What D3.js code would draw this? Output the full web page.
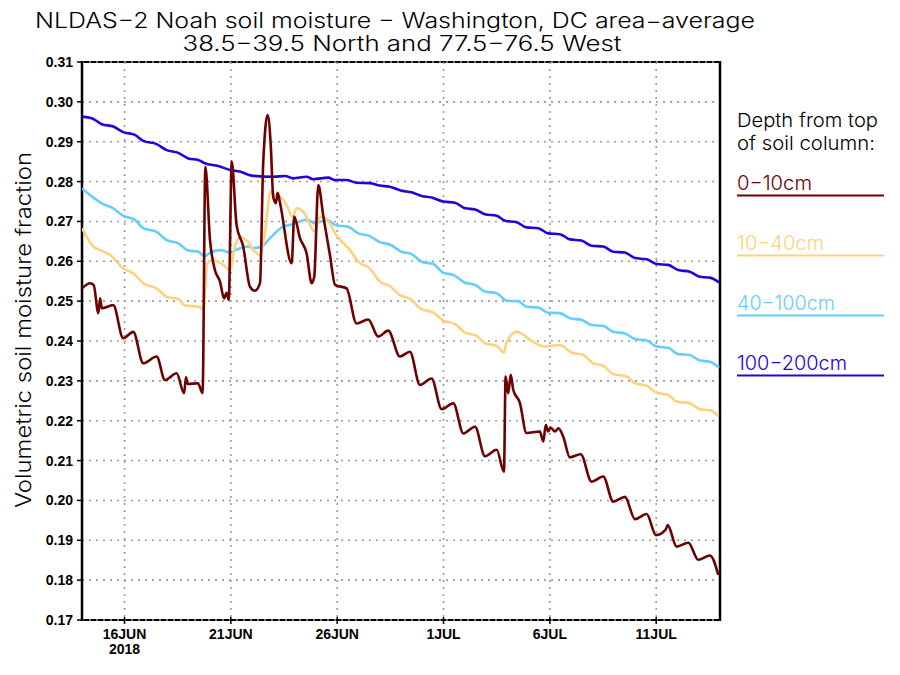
<!DOCTYPE html>
<html>
<head>
<meta charset="utf-8">
<script src="https://cdn.jsdelivr.net/npm/d3@7"></script>
<style>
  body { margin: 0; background: #fff; }
  text { font-family: "Liberation Sans", Arial, sans-serif; }
  .thin { font-family: "Inter", "Lato", "Liberation Sans", sans-serif; font-weight: 300; }
</style>
</head>
<body>
<svg id="chart" width="900" height="675"></svg>
<script>
// time in days since 14 Jun 2018 00Z, value = volumetric soil moisture fraction
const depth0_10 = [[0,0.2532],[0.38,0.2545],[0.55,0.2540],[0.77,0.2470],[0.85,0.2507],[0.93,0.2482],[1.47,0.2490],[1.94,0.2407],[2.41,0.2423],[2.88,0.2344],[3.51,0.2361],[3.9,0.2302],[4.45,0.2319],[4.8,0.2269],[4.89,0.2309],[4.97,0.2292],[5.45,0.2294],[5.67,0.2269],[5.8,0.2837],[6.02,0.2653],[6.25,0.2578],[6.49,0.2549],[6.68,0.2507],[6.8,0.2521],[6.9,0.2503],[7.04,0.2850],[7.27,0.2690],[7.58,0.2637],[7.90,0.2536],[8.13,0.2526],[8.37,0.2545],[8.52,0.2846],[8.73,0.2967],[8.88,0.2887],[8.99,0.2762],[9.12,0.2746],[9.2,0.2772],[9.3,0.2750],[9.86,0.2595],[9.98,0.2712],[10.25,0.2658],[10.56,0.2620],[10.8,0.2545],[10.92,0.2561],[11.11,0.2791],[11.35,0.2712],[11.66,0.2615],[11.9,0.2541],[12.44,0.2532],[12.91,0.2444],[13.46,0.2454],[13.93,0.2411],[14.40,0.2426],[14.95,0.2361],[15.42,0.2373],[15.89,0.2290],[16.44,0.2306],[16.91,0.2229],[17.46,0.2244],[17.93,0.2168],[18.48,0.2185],[18.95,0.2111],[19.50,0.2127],[19.84,0.2072],[19.92,0.2311],[20.04,0.2269],[20.16,0.2315],[20.28,0.2277],[20.59,0.2245],[20.9,0.2169],[21.53,0.2173],[21.69,0.2148],[21.81,0.2189],[21.92,0.2173],[22.03,0.2183],[22.24,0.2173],[22.4,0.2181],[22.63,0.2160],[22.94,0.2108],[23.45,0.2116],[23.96,0.2047],[24.51,0.2060],[24.98,0.1997],[25.53,0.2009],[26.0,0.1953],[26.55,0.1966],[26.99,0.1913],[27.46,0.1928],[27.54,0.1938],[27.96,0.1884],[28.51,0.1894],[28.98,0.1851],[29.53,0.1862],[29.92,0.1813]];

const depth10_40 = [[0,0.2683],[0.53,0.2637],[0.93,0.2626],[1.32,0.2616],[1.94,0.2582],[2.41,0.2570],[2.88,0.2545],[3.51,0.2532],[3.98,0.2511],[4.53,0.2505],[4.84,0.2489],[5.47,0.2486],[5.7,0.2480],[5.89,0.2595],[6.17,0.2603],[6.64,0.2591],[6.96,0.2578],[7.19,0.2637],[7.43,0.2660],[7.74,0.2653],[8.06,0.2628],[8.37,0.2616],[8.6,0.2670],[8.87,0.2775],[9.15,0.2762],[9.3,0.2762],[9.62,0.2741],[9.9,0.2712],[10.1,0.2733],[10.41,0.2724],[10.95,0.2674],[11.19,0.2712],[11.5,0.2706],[11.97,0.2665],[12.6,0.2628],[12.99,0.2599],[13.54,0.2582],[14.0,0.2549],[14.47,0.2538],[14.95,0.2515],[15.5,0.2503],[15.89,0.2482],[16.52,0.2471],[16.99,0.2451],[17.54,0.2443],[18.01,0.2421],[18.56,0.2413],[18.95,0.2394],[19.5,0.2388],[19.85,0.2371],[19.95,0.2394],[20.44,0.2423],[20.67,0.2419],[21.06,0.2403],[21.77,0.2386],[22.47,0.2390],[23.02,0.2371],[23.57,0.2365],[24.04,0.2344],[24.51,0.2338],[24.98,0.2317],[25.61,0.2311],[26.0,0.2294],[26.55,0.2288],[27.02,0.2270],[27.56,0.2265],[27.96,0.2248],[28.58,0.2244],[29.05,0.2229],[29.6,0.2225],[29.92,0.2212]];

const depth40_100 = [[0,0.2783],[0.38,0.2766],[0.93,0.2745],[1.47,0.2733],[1.94,0.2714],[2.49,0.2704],[2.88,0.2683],[3.51,0.2674],[3.98,0.2653],[4.53,0.2645],[5.0,0.2627],[5.47,0.2624],[5.74,0.2613],[6.1,0.2624],[6.49,0.2628],[6.96,0.2622],[7.43,0.2633],[7.8,0.2637],[8.03,0.2633],[8.45,0.2637],[8.84,0.2658],[9.46,0.2687],[9.93,0.2693],[10.56,0.2705],[10.95,0.2695],[11.5,0.2704],[11.97,0.2690],[12.5,0.2687],[12.99,0.2670],[13.54,0.2663],[14.0,0.2648],[14.47,0.2642],[15.03,0.2624],[15.5,0.2618],[15.97,0.2599],[16.52,0.2593],[16.99,0.2571],[17.46,0.2566],[18.01,0.2546],[18.48,0.2541],[18.95,0.2524],[19.5,0.2520],[19.97,0.2501],[20.51,0.2500],[20.9,0.2486],[21.45,0.2484],[21.92,0.2471],[22.47,0.2470],[22.94,0.2457],[23.49,0.2453],[23.96,0.2440],[24.51,0.2438],[24.98,0.2423],[25.53,0.2419],[26.0,0.2405],[26.55,0.2401],[27.02,0.2386],[27.56,0.2383],[28.03,0.2367],[28.58,0.2365],[29.05,0.2351],[29.52,0.2348],[29.96,0.2333]];

const depth100_200 = [[0,0.2963],[0.46,0.2959],[0.93,0.2944],[1.47,0.2938],[1.94,0.2924],[2.49,0.2917],[2.88,0.2902],[3.51,0.2894],[3.98,0.2879],[4.53,0.2872],[5.0,0.2858],[5.47,0.2854],[5.78,0.2846],[6.41,0.2839],[6.96,0.2829],[7.43,0.2825],[7.98,0.2815],[9.0,0.2812],[9.55,0.2814],[9.93,0.2808],[10.56,0.2812],[10.87,0.2806],[11.58,0.2810],[11.89,0.2804],[12.44,0.2804],[12.91,0.2797],[13.54,0.2796],[14.0,0.2790],[14.47,0.2787],[15.03,0.2777],[15.5,0.2773],[15.97,0.2764],[16.44,0.2760],[16.99,0.2750],[17.54,0.2747],[18.01,0.2733],[18.48,0.2730],[18.95,0.2718],[19.5,0.2714],[19.89,0.2702],[20.44,0.2698],[20.9,0.2685],[21.45,0.2683],[21.92,0.2670],[22.47,0.2668],[22.94,0.2655],[23.49,0.2652],[23.96,0.2639],[24.51,0.2637],[24.98,0.2624],[25.53,0.2622],[26.0,0.2608],[26.55,0.2605],[27.02,0.2593],[27.56,0.2591],[28.03,0.2578],[28.58,0.2574],[29.05,0.2561],[29.52,0.2559],[29.96,0.2547]];

const seriesNames = ["0\u221210cm", "10\u221240cm", "40\u2212100cm", "100\u2212200cm"];
const seriesColors = ["#6e0000", "#fdd27e", "#66cdff", "#2800dc"];
const yTickValues = [0.17,0.18,0.19,0.20,0.21,0.22,0.23,0.24,0.25,0.26,0.27,0.28,0.29,0.30,0.31];
const xTickDates = ["2018-06-16","2018-06-21","2018-06-26","2018-07-01","2018-07-06","2018-07-11"];
const xTickLabels = ["16JUN","21JUN","26JUN","1JUL","6JUL","11JUL"];

const t0 = Date.UTC(2018, 5, 14);
const toDate = (d) => new Date(t0 + d * 86400000);

const svg = d3.select("#chart");
const plotL = 82, plotR = 720, plotT = 62, plotB = 620;

const x = d3.scaleUtc()
  .domain([toDate(0), toDate(30)])
  .range([plotL, plotR]);
const y = d3.scaleLinear().domain([0.17, 0.31]).range([plotB, plotT]);

svg.append("rect").attr("width", 900).attr("height", 675).attr("fill", "#fff");

// frame
svg.append("rect")
  .attr("x", plotL).attr("y", plotT)
  .attr("width", plotR - plotL).attr("height", plotB - plotT)
  .attr("fill", "none").attr("stroke", "#000").attr("stroke-width", 2);

// grid
const grid = svg.append("g")
  .attr("stroke", "#9a9a9a").attr("stroke-width", 1.6)
  .attr("stroke-dasharray", "2,5");
grid.selectAll("line.h")
  .data(yTickValues)
  .join("line")
  .attr("class", "h")
  .attr("x1", plotL).attr("x2", plotR)
  .attr("y1", (d) => y(d)).attr("y2", (d) => y(d));
const tickDates = xTickDates.map((s) => new Date(s + "T00:00:00Z"));
grid.selectAll("line.v")
  .data(tickDates)
  .join("line")
  .attr("class", "v")
  .attr("x1", (d) => x(d)).attr("x2", (d) => x(d))
  .attr("y1", plotT).attr("y2", plotB);

// side borders
svg.append("line")
  .attr("x1", plotL).attr("x2", plotL).attr("y1", plotT - 1).attr("y2", plotB + 1)
  .attr("stroke", "#000").attr("stroke-width", 2.5);
svg.append("line")
  .attr("x1", plotR).attr("x2", plotR).attr("y1", plotT - 1).attr("y2", plotB + 1)
  .attr("stroke", "#000").attr("stroke-width", 2.5);

const yAxis = svg.append("g");
yAxis.selectAll("line")
  .data(yTickValues)
  .join("line")
  .attr("x1", plotL - 5).attr("x2", plotL)
  .attr("y1", (d) => y(d)).attr("y2", (d) => y(d))
  .attr("stroke", "#000").attr("stroke-width", 1.5);
yAxis.selectAll("text")
  .data(yTickValues)
  .join("text")
  .attr("x", plotL - 9)
  .attr("y", (d) => y(d) + 5)
  .attr("text-anchor", "end")
  .style("font-size", "14px")
  .style("font-weight", "bold")
  .text((d) => d.toFixed(2));

// bottom axis
const xAxis = svg.append("g");
xAxis.selectAll("line")
  .data(tickDates)
  .join("line")
  .attr("x1", (d) => x(d)).attr("x2", (d) => x(d))
  .attr("y1", plotB - 3).attr("y2", plotB + 4)
  .attr("stroke", "#000").attr("stroke-width", 1.5);
xAxis.selectAll("text")
  .data(tickDates)
  .join("text")
  .attr("x", (d) => x(d))
  .attr("y", plotB + 19)
  .attr("text-anchor", "middle")
  .style("font-size", "14px")
  .style("font-weight", "bold")
  .text((d, i) => xTickLabels[i]);
svg.append("text")
  .attr("x", x(tickDates[0])).attr("y", plotB + 34)
  .attr("text-anchor", "middle")
  .style("font-size", "14px").style("font-weight", "bold")
  .text("2018");

// series
svg.append("clipPath").attr("id", "plotclip")
  .append("rect").attr("x", plotL).attr("y", plotT)
  .attr("width", plotR - plotL).attr("height", plotB - plotT);

const line = d3.line()
  .x((d) => x(toDate(d[0])))
  .y((d) => y(d[1]))
  .curve(d3.curveMonotoneX);

const allSeries = [depth0_10, depth10_40, depth40_100, depth100_200];
svg.append("g").attr("clip-path", "url(#plotclip)")
  .selectAll("path")
  .data(allSeries.map((s, i) => ({ s, i })).reverse())
  .join("path")
  .attr("d", (d) => line(d.s))
  .attr("fill", "none")
  .attr("stroke", (d) => seriesColors[d.i])
  .attr("stroke-width", 2.6)
  .attr("stroke-linejoin", "round");

// titles
svg.append("text")
  .attr("class", "thin")
  .attr("x", 395).attr("y", 28)
  .attr("text-anchor", "middle")
  .attr("textLength", 720).attr("lengthAdjust", "spacingAndGlyphs")
  .style("font-size", "21px")
  .text("NLDAS\u22122 Noah soil moisture \u2212 Washington, DC area\u2212average");
svg.append("text")
  .attr("class", "thin")
  .attr("x", 402).attr("y", 51)
  .attr("text-anchor", "middle")
  .attr("textLength", 439).attr("lengthAdjust", "spacingAndGlyphs")
  .style("font-size", "21px")
  .text("38.5\u221239.5 North and 77.5\u221276.5 West");

svg.append("text")
  .attr("class", "thin")
  .attr("transform", "translate(31,330) rotate(-90)")
  .attr("text-anchor", "middle")
  .attr("textLength", 356).attr("lengthAdjust", "spacingAndGlyphs")
  .style("font-size", "21px")
  .text("Volumetric soil moisture fraction");

// legend
svg.append("text")
  .attr("class", "thin")
  .attr("x", 737).attr("y", 127)
  .attr("textLength", 141).attr("lengthAdjust", "spacingAndGlyphs")
  .style("font-size", "19px")
  .text("Depth from top");
svg.append("text")
  .attr("class", "thin")
  .attr("x", 737).attr("y", 150)
  .attr("textLength", 138).attr("lengthAdjust", "spacingAndGlyphs")
  .style("font-size", "19px")
  .text("of soil column:");

const legendW = [75, 87, 98, 110];
const legend = svg.append("g")
  .selectAll("g")
  .data(seriesNames)
  .join("g")
  .attr("transform", (d, i) => `translate(737,${190 + i * 60})`);
legend.append("text")
  .attr("class", "thin")
  .attr("x", 0).attr("y", 0)
  .attr("fill", (d, i) => seriesColors[i])
  .attr("textLength", (d, i) => legendW[i]).attr("lengthAdjust", "spacingAndGlyphs")
  .style("font-size", "19.5px")
  .text((d) => d);
legend.append("line")
  .attr("x1", 0).attr("x2", 147)
  .attr("y1", 5.5).attr("y2", 5.5)
  .attr("stroke", (d, i) => seriesColors[i])
  .attr("stroke-width", 2);
</script>
</body>
</html>
